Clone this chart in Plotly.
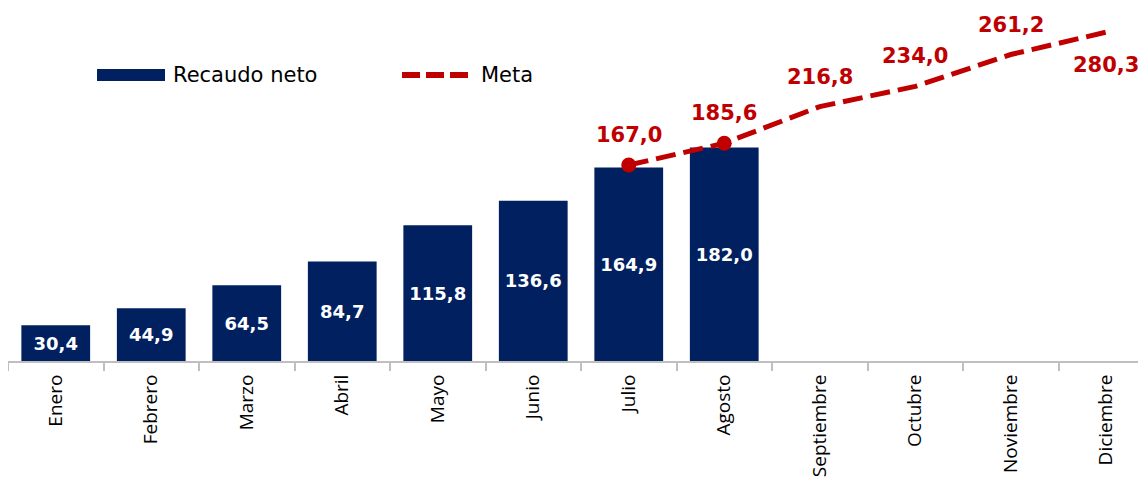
import plotly.graph_objects as go

meses = ["Enero", "Febrero", "Marzo", "Abril", "Mayo", "Junio", "Julio",
         "Agosto", "Septiembre", "Octubre", "Noviembre", "Diciembre"]
recaudo_meses = meses[:8]
recaudo = [30.4, 44.9, 64.5, 84.7, 115.8, 136.6, 164.9, 182.0]
meta_meses = meses[6:]
meta = [167.0, 185.6, 216.8, 234.0, 261.2, 280.3]
marcador_meses = meses[6:8]
marcador = meta[:2]

NAVY = "#002060"
RED = "#C00000"
FONT = "Verdana, DejaVu Sans, sans-serif"
TICKFONT = "Open Sans, Noto Sans, sans-serif"

def fmt(v):
    return f"{v:.1f}".replace(".", ",")

# page has an 8px body margin; size the figure so it fits the 1146x483 window
OFF = 8
W, H = 1138, 475
L, R, T, B = 0, 0, 1, 122
PW, PH = W - L - R, H - T - B
CAT = 95.5

fig = go.Figure()
fig.add_trace(go.Bar(
    x=recaudo_meses, y=recaudo, name="Recaudo neto",
    marker=dict(color=NAVY, line=dict(width=0)), width=0.72,
    text=[fmt(v) for v in recaudo], textposition="inside",
    insidetextanchor="middle", textangle=0,
    textfont=dict(color="white", size=18, family=FONT, weight="bold"),
    showlegend=False, cliponaxis=False,
))
fig.add_trace(go.Scatter(
    x=meta_meses, y=meta, name="Meta", mode="lines",
    line=dict(color=RED, width=5, dash="20px,8px"),
    showlegend=False, cliponaxis=False,
))
fig.add_trace(go.Scatter(
    x=marcador_meses, y=marcador, mode="markers",
    marker=dict(color=RED, size=15, opacity=1, line=dict(width=0)),
    showlegend=False, cliponaxis=False, hoverinfo="skip",
))

for i, (m, v) in enumerate(zip(meta_meses, meta)):
    last = i == len(meta) - 1
    fig.add_annotation(
        x=m, y=v, text=fmt(v), showarrow=False,
        xanchor="center", yanchor="middle",
        yshift=-33 if last else 30, xshift=0,
        font=dict(color=RED, size=21, family=FONT, weight="bold"),
    )

def px(x):
    return (x - OFF - L) / PW

def py(y):
    return (H - B - (y - OFF)) / PH

# manual legend (page pixel positions)
fig.add_shape(type="rect", xref="paper", yref="paper",
              x0=px(97), x1=px(165), y0=py(81), y1=py(69),
              fillcolor=NAVY, line=dict(width=0))
fig.add_annotation(xref="paper", yref="paper", x=px(171), y=py(75),
                   text="Recaudo neto", showarrow=False, xanchor="left",
                   yanchor="middle", font=dict(size=21, color="#000000", family=FONT))
fig.add_shape(type="line", xref="paper", yref="paper",
              x0=px(402), x1=px(468), y0=py(75), y1=py(75),
              line=dict(color=RED, width=6, dash="18px,6px"))
fig.add_annotation(xref="paper", yref="paper", x=px(479), y=py(75),
                   text="Meta", showarrow=False, xanchor="left",
                   yanchor="middle", font=dict(size=21, color="#000000", family=FONT))

fig.update_xaxes(
    categoryorder="array", categoryarray=meses,
    range=[-0.5, -0.5 + PW / CAT],
    showline=True, linecolor="#BFBFBF", linewidth=2,
    ticks="outside", tickson="boundaries", ticklen=8, tickcolor="#BFBFBF", tickwidth=2,
    tickangle=-90, tickfont=dict(size=19, color="#000000", family=TICKFONT),
    ticklabelstandoff=4,
    showgrid=False, zeroline=False,
)
fig.update_yaxes(range=[0, 300], visible=False, showgrid=False, zeroline=False)

fig.update_layout(
    width=W, height=H, margin=dict(l=L, r=R, t=T, b=B, autoexpand=False),
    plot_bgcolor="white", paper_bgcolor="white",
    font=dict(family=FONT), bargap=0.28,
)

fig.write_html("out.html")
